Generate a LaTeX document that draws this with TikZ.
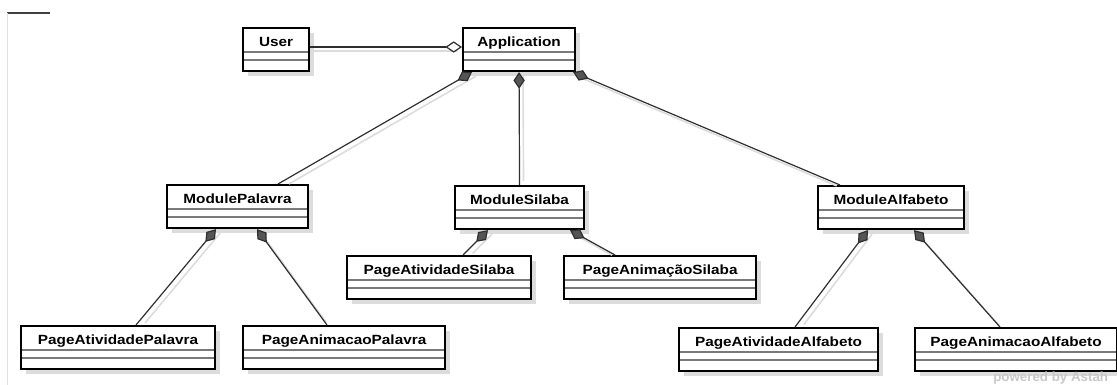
\documentclass[tikz,border=0pt]{standalone}
\usepackage{fontspec}
\setmainfont{Liberation Sans}
\newfontfamily\umlfont[FakeStretch=1.15]{Liberation Sans}
\usepackage{tikz}
\usetikzlibrary{positioning, arrows.meta, calc, shadows, backgrounds}
\usepackage{xcolor}
\definecolor{LineGray}{HTML}{2F2F2F}
\definecolor{TipGray}{HTML}{555555}
\definecolor{SepGray}{HTML}{7A7A7A}
\definecolor{ShadeGray}{HTML}{DCDCDC}

\begin{document}
\begin{tikzpicture}[
    x=0.75pt, y=-0.75pt,
    every node/.style={font=\umlfont\bfseries\fontsize{10}{12}\selectfont},
    umlclass/.style={draw=black, line width=1.6pt, fill=white, anchor=north west,
        minimum width=#1*0.75pt, inner xsep=0pt, inner ysep=0pt,
        text height=13.5pt, text depth=18.75pt,
        drop shadow={shadow xshift=3.5pt, shadow yshift=-3.5pt, fill=ShadeGray, opacity=1},
        path picture={
            \draw[SepGray, line width=1.1pt]
                ($(path picture bounding box.north west)+(0,24)$) -- ($(path picture bounding box.north east)+(0,24)$)
                ($(path picture bounding box.north west)+(0,32)$) -- ($(path picture bounding box.north east)+(0,32)$);
        }},
    comp/.style={draw=LineGray, line width=0.9pt,
        arrows={Diamond[fill=TipGray, length=12.5pt, width=8.5pt]-},
        preaction={draw=ShadeGray, line width=1.2pt, arrows=-, shorten >=6pt,
            transform canvas={shift={(3pt,-3pt)}}}},
    aggr/.style={draw=LineGray, line width=0.9pt,
        arrows={Diamond[fill=white, length=12.5pt, width=8.5pt]-},
        preaction={draw=ShadeGray, line width=1.2pt, arrows=-, shorten <=6pt,
            transform canvas={shift={(3pt,-3pt)}}}}
]
\useasboundingbox (0,0) rectangle (1117,385);

% frame corner
\draw[black!75, line width=0.9pt] (7,13) -- (50,13);
\draw[black!12, line width=0.75pt] (7,13) -- (7,385);

% === classes ===
\node[umlclass=66] (user) at (242,27) {User};
\node[umlclass=112] (app) at (462,27) {Application};

\node[umlclass=141] (palavra) at (166,184) {ModulePalavra};
\node[umlclass=129] (silaba) at (454,185) {ModuleSilaba};
\node[umlclass=146] (alfabeto) at (817,185) {ModuleAlfabeto};

\node[umlclass=194] (atvPalavra) at (20,325) {PageAtividadePalavra};
\node[umlclass=202] (animPalavra) at (242,325) {PageAnimacaoPalavra};
\node[umlclass=184] (atvSilaba) at (346,255) {PageAtividadeSilaba};
\node[umlclass=192] (animSilaba) at (563,255) {PageAnimaçãoSilaba};
\node[umlclass=199] (atvAlfabeto) at (678,327) {PageAtividadeAlfabeto};
\node[umlclass=202] (animAlfabeto) at (914,327) {PageAnimacaoAlfabeto};

% === associations ===
\draw[aggr] ($(app.north west)+(0,20)$) -- ($(user.north east)+(0,20)$);

\draw[comp] ($(app.south west)+(10,0)$) -- ($(palavra.north west)+(112,0)$);
\draw[comp] (app.south) -- (silaba.north);
\draw[comp] ($(app.south east)+(-3,0)$) -- ($(alfabeto.north west)+(23,0)$);

\draw[comp] ($(palavra.south west)+(50,0)$) -- ($(atvPalavra.north west)+(116,0)$);
\draw[comp] ($(palavra.south west)+(91,0)$) -- ($(animPalavra.north west)+(85,0)$);

\draw[comp] ($(silaba.south west)+(34,0)$) -- ($(atvSilaba.north west)+(117,0)$);
\draw[comp] ($(silaba.south west)+(116,0)$) -- ($(animSilaba.north west)+(52,0)$);

\draw[comp] ($(alfabeto.south west)+(51,0)$) -- ($(atvAlfabeto.north west)+(117,0)$);
\draw[comp] ($(alfabeto.south west)+(97,0)$) -- ($(animAlfabeto.north west)+(86,0)$);

% watermark
\node[anchor=south west, inner sep=0pt, text=black!22, font=\bfseries\fontsize{10}{12}\selectfont] (astah) at (993,384.5) {powered by Astah};

\end{tikzpicture}
\end{document}
